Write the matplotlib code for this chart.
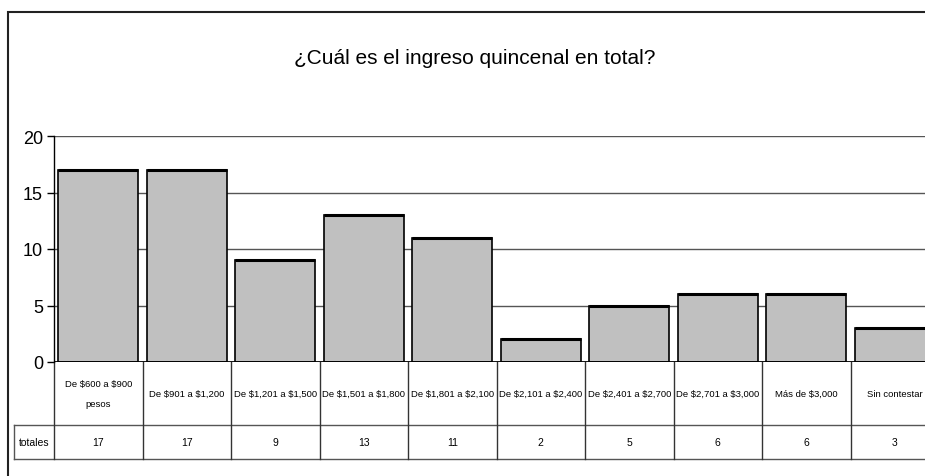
import matplotlib
matplotlib.use("Agg")
import matplotlib.pyplot as plt
from matplotlib.patches import Rectangle
import numpy as np

plt.rcParams['font.family'] = ['Liberation Sans Narrow', 'Liberation Sans', 'DejaVu Sans']
plt.rcParams['text.parse_math'] = False  # los "$" son texto normal

# datos
categorias = ["De $600 a $900\npesos", "De $901 a $1,200", "De $1,201 a $1,500",
              "De $1,501 a $1,800", "De $1,801 a $2,100", "De $2,101 a $2,400",
              "De $2,401 a $2,700", "De $2,701 a $3,000", "Más de $3,000",
              "Sin contestar"]
totales = [17, 17, 9, 13, 11, 2, 5, 6, 6, 3]
titulo = "¿Cuál es el ingreso quincenal en total?"

W, H = 925, 477
fig = plt.figure(figsize=(W / 100, H / 100), dpi=100)

# marco exterior (cortado a la derecha y abajo)
fig.patches.append(Rectangle((8 / W, -0.1), 1.2, (H - 13) / H + 0.1,
                             transform=fig.transFigure, fill=False,
                             edgecolor='#222222', lw=1.5))

n = len(totales)
ancho_cat = 88.5
x0, y0, y1 = 54, 363, 137
ax = fig.add_axes([x0 / W, (H - y0) / H, n * ancho_cat / W, (y0 - y1) / H])

x = np.arange(n)
ax.bar(x, totales, width=0.9, color='#c0c0c0', edgecolor='black', lw=1.2, zorder=3)
ax.hlines(totales, x - 0.45, x + 0.45, colors='black', lw=2.2, zorder=4)

ax.set_xlim(-0.5, n - 0.5)
ax.set_ylim(0, 20)
ax.set_yticks([0, 5, 10, 15, 20])
ax.tick_params(axis='y', labelsize=13, length=5, direction='out', width=1, pad=3)
ax.set_xticks([])
ax.grid(axis='y', color='#555555', lw=1, zorder=0)
for s in ['top', 'right', 'bottom']:
    ax.spines[s].set_visible(False)
ax.spines['left'].set_linewidth(1)
ax.axhline(0, color='black', lw=2, zorder=5)

fig.text(475 / W, (H - 58) / H, titulo, ha='center', va='center', fontsize=15)

# tabla de datos
tr = ax.get_xaxis_transform()
px = 1 / (y0 - y1)
r1 = -(426 - y0) * px
r2 = -(460 - y0) * px
xl = -0.5 - 40 / ancho_cat
lc = '#555555'
ax.plot([xl, n - 0.5], [r1, r1], color=lc, lw=1, transform=tr, clip_on=False)
ax.plot([xl, n - 0.5], [r2, r2], color=lc, lw=1, transform=tr, clip_on=False)
ax.plot([xl, xl], [r1, r2], color=lc, lw=1, transform=tr, clip_on=False)
for i in range(n + 1):
    ax.plot([i - 0.5, i - 0.5], [0, r2], color='#333333', lw=1, transform=tr,
            clip_on=False)
for i in range(n):
    ax.text(i, r1 / 2, categorias[i], transform=tr, ha='center', va='center',
            fontsize=6.8, linespacing=2.5)
    ax.text(i, (r1 + r2) / 2, str(totales[i]), transform=tr, ha='center',
            va='center', fontsize=7.5)
ax.text((xl - 0.5) / 2, (r1 + r2) / 2, "totales", transform=tr, ha='center',
        va='center', fontsize=7.5)

fig.savefig("out.png", dpi=100)
